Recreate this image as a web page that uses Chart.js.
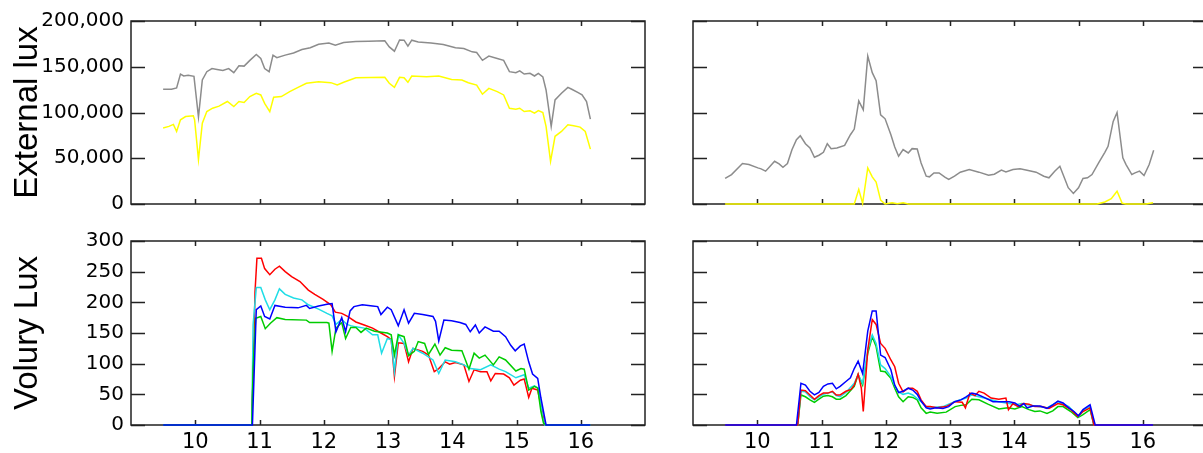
<!DOCTYPE html>
<html>
<head>
<meta charset="utf-8">
<script src="https://cdn.jsdelivr.net/npm/chart.js@4"></script>
<style>
  html, body { margin: 0; padding: 0; background: #fff; overflow: hidden; width: 1203px; height: 453px; }
  canvas { position: absolute; }
</style>
</head>
<body>
<canvas id="ext_left" width="660" height="230" style="left:0;top:0"></canvas>
<canvas id="ext_right" width="660" height="230" style="left:562px;top:0"></canvas>
<canvas id="vol_left" width="660" height="233" style="left:0;top:220px"></canvas>
<canvas id="vol_right" width="660" height="233" style="left:562px;top:220px"></canvas>
<script>
// hours of the day on the x axis
const hourTicks = [10, 11, 12, 13, 14, 15, 16]
const luxTicks = [0, 50000, 100000, 150000, 200000]
const voluryTicks = [0, 50, 100, 150, 200, 250, 300]

// external lux, left day: [hour, lux]
const extGrayLeft = [
  [9.50, 125500], [9.63, 125500], [9.71, 126800], [9.77, 142000], [9.82, 140000], [9.89, 140600],
  [9.98, 139500], [10.05, 95000], [10.11, 135500], [10.18, 144600], [10.26, 148000], [10.34, 147000],
  [10.43, 146000], [10.52, 148000], [10.60, 143500], [10.68, 151000], [10.76, 150700], [10.85, 157000],
  [10.95, 163400], [11.02, 159000], [11.08, 148000], [11.15, 144600], [11.21, 162700], [11.27, 160000],
  [11.40, 162700], [11.53, 165000], [11.66, 168800], [11.79, 170700], [11.92, 174600], [12.08, 176000],
  [12.18, 173600], [12.31, 176400], [12.50, 177500], [12.70, 178000], [12.95, 178300], [13.02, 171700],
  [13.10, 167000], [13.18, 179300], [13.25, 179000], [13.31, 172500], [13.37, 179000], [13.47, 177000],
  [13.67, 176000], [13.86, 174300], [14.05, 170700], [14.18, 170000], [14.31, 166300], [14.38, 165600],
  [14.47, 157000], [14.57, 161600], [14.70, 159000], [14.80, 157000], [14.89, 144600], [14.99, 143500],
  [15.05, 145600], [15.12, 142000], [15.21, 142800], [15.28, 139900], [15.34, 142800], [15.41, 139000],
  [15.46, 124600], [15.54, 84800], [15.60, 113800], [15.70, 121000], [15.80, 127500], [15.86, 125400],
  [15.96, 121700], [16.02, 119200], [16.09, 112000], [16.15, 92800]
]
const extYellowLeft = [
  [9.50, 83000], [9.59, 84800], [9.66, 87000], [9.71, 79300], [9.77, 92000], [9.85, 95600],
  [9.97, 96400], [9.99, 92000], [10.05, 48500], [10.11, 88400], [10.18, 101000], [10.27, 104700],
  [10.37, 107000], [10.50, 112000], [10.60, 106500], [10.68, 112000], [10.76, 111000], [10.85, 117400],
  [10.95, 121000], [11.02, 119200], [11.08, 110000], [11.16, 101000], [11.22, 116700], [11.34, 117400],
  [11.47, 122800], [11.60, 127500], [11.73, 132000], [11.92, 133700], [12.11, 132600], [12.21, 130000],
  [12.31, 133000], [12.50, 138000], [12.95, 138400], [13.02, 131900], [13.10, 127500], [13.18, 138400],
  [13.25, 138000], [13.31, 133000], [13.37, 139900], [13.60, 139000], [13.79, 139900], [13.99, 136000],
  [14.15, 135500], [14.25, 132600], [14.38, 130000], [14.47, 120000], [14.57, 126400], [14.70, 122800],
  [14.80, 119200], [14.89, 104700], [14.99, 103600], [15.05, 104700], [15.12, 101000], [15.21, 101800],
  [15.28, 99300], [15.34, 102000], [15.41, 100000], [15.46, 84800], [15.53, 46700], [15.60, 74000],
  [15.70, 79300], [15.80, 86600], [15.89, 85500], [15.99, 84000], [16.07, 79300], [16.15, 60000]
]

// external lux, right day
const extGrayRight = [
  [9.50, 27900], [9.60, 32200], [9.77, 44200], [9.87, 43100], [10.01, 39500], [10.06, 38400],
  [10.13, 35900], [10.20, 41300], [10.27, 46700], [10.34, 43800], [10.40, 40200], [10.47, 44200],
  [10.54, 59400], [10.61, 70300], [10.67, 74600], [10.75, 65900], [10.82, 61200], [10.89, 51100],
  [10.96, 53300], [11.03, 56500], [11.09, 65900], [11.15, 60500], [11.24, 61200], [11.36, 64100],
  [11.45, 75700], [11.51, 81900], [11.58, 112700], [11.65, 102900], [11.72, 161600], [11.79, 143500],
  [11.85, 134800], [11.92, 97500], [11.99, 93100], [12.08, 75700], [12.14, 62300], [12.20, 52200],
  [12.27, 59400], [12.35, 55800], [12.41, 60500], [12.49, 60100], [12.55, 44900], [12.63, 30400],
  [12.68, 29700], [12.75, 34000], [12.83, 34000], [12.92, 29300], [12.98, 26800], [13.07, 30400],
  [13.16, 34800], [13.30, 37700], [13.45, 34800], [13.60, 31500], [13.69, 32600], [13.80, 37000],
  [13.87, 35100], [13.98, 37700], [14.09, 38400], [14.20, 37000], [14.34, 34800], [14.46, 30400],
  [14.54, 28600], [14.63, 35900], [14.71, 41300], [14.76, 32200], [14.84, 17800], [14.92, 11600],
  [15.00, 17800], [15.07, 27900], [15.14, 28600], [15.21, 32200], [15.32, 45700], [15.41, 56500],
  [15.46, 63000], [15.54, 90200], [15.60, 100000], [15.69, 50400], [15.74, 43100], [15.83, 32200],
  [15.88, 34000], [15.95, 35900], [16.02, 31200], [16.10, 43100], [16.17, 58700]
]
const extYellowRight = [
  [9.50, 0], [11.51, 0], [11.58, 16000], [11.64, 700], [11.72, 39500], [11.79, 29700],
  [11.85, 24000], [11.92, 4300], [11.99, 0], [12.10, 1400], [12.18, 400], [12.27, 1400],
  [12.35, 0], [15.29, 0], [15.41, 2200], [15.51, 5800], [15.60, 14000], [15.68, 700],
  [15.74, 0], [16.05, 0], [16.16, 1400]
]

// volury lux, left day
const volRedLeft = [
  [9.50, 0], [10.87, 0], [10.88, 32], [10.90, 71], [10.93, 217], [10.96, 272], [11.03, 272],
  [11.08, 255], [11.16, 245], [11.24, 254], [11.31, 259], [11.40, 250], [11.50, 242], [11.63, 234],
  [11.76, 220], [11.86, 213], [11.99, 205], [12.11, 196], [12.18, 184], [12.28, 182], [12.37, 177],
  [12.50, 168], [12.63, 163], [12.76, 158], [12.89, 150], [12.99, 144], [13.05, 139], [13.10, 79],
  [13.16, 134], [13.25, 133], [13.32, 103], [13.39, 125], [13.54, 120], [13.63, 114], [13.72, 87],
  [13.79, 92], [13.89, 103], [13.96, 99], [14.05, 102], [14.18, 98], [14.26, 71], [14.34, 90],
  [14.44, 87], [14.54, 87], [14.60, 72], [14.67, 84], [14.80, 83], [14.89, 77], [14.96, 65],
  [15.06, 73], [15.12, 75], [15.19, 45], [15.24, 60], [15.33, 57], [15.40, 22], [15.44, 0], [16.15, 0]
]
const volCyanLeft = [
  [9.50, 0], [10.88, 0], [10.90, 163], [10.95, 224], [11.02, 224], [11.09, 204], [11.16, 188],
  [11.24, 204], [11.31, 222], [11.40, 213], [11.53, 207], [11.66, 204], [11.76, 196], [11.92, 189],
  [12.05, 182], [12.13, 178], [12.19, 164], [12.28, 172], [12.36, 164], [12.42, 162], [12.50, 160],
  [12.63, 158], [12.76, 147], [12.84, 147], [12.90, 117], [12.99, 141], [13.05, 139], [13.10, 87],
  [13.16, 147], [13.25, 133], [13.32, 114], [13.39, 125], [13.54, 117], [13.70, 106], [13.79, 84],
  [13.89, 106], [14.05, 103], [14.18, 98], [14.28, 92], [14.44, 90], [14.60, 98], [14.73, 91],
  [14.83, 87], [14.99, 77], [15.12, 82], [15.19, 60], [15.28, 64], [15.34, 60], [15.41, 11],
  [15.44, 0], [16.15, 0]
]
const volGreenLeft = [
  [9.50, 0], [10.88, 0], [10.90, 92], [10.94, 174], [11.02, 177], [11.09, 157], [11.17, 166],
  [11.27, 175], [11.40, 172], [11.73, 171], [11.78, 167], [12.05, 167], [12.08, 166], [12.13, 120],
  [12.19, 158], [12.28, 167], [12.34, 141], [12.42, 159], [12.50, 159], [12.58, 151], [12.66, 158],
  [12.79, 153], [12.99, 150], [13.05, 147], [13.10, 114], [13.16, 147], [13.25, 144], [13.32, 113],
  [13.41, 120], [13.47, 136], [13.57, 133], [13.63, 115], [13.73, 132], [13.81, 114], [13.89, 126],
  [13.99, 122], [14.15, 121], [14.26, 91], [14.34, 117], [14.42, 109], [14.51, 114], [14.64, 98],
  [14.73, 111], [14.83, 106], [14.99, 88], [15.07, 92], [15.12, 91], [15.19, 57], [15.28, 63],
  [15.33, 60], [15.38, 22], [15.42, 3], [15.46, 0], [16.15, 0]
]
const volBlueLeft = [
  [9.50, 0], [10.89, 0], [10.95, 188], [11.02, 194], [11.08, 177], [11.16, 173], [11.24, 195],
  [11.40, 192], [11.60, 191], [11.73, 195], [11.78, 190], [11.92, 194], [12.05, 197], [12.13, 198],
  [12.19, 152], [12.28, 175], [12.34, 152], [12.41, 186], [12.47, 193], [12.60, 196], [12.76, 194],
  [12.84, 193], [12.89, 180], [12.99, 192], [13.05, 188], [13.16, 162], [13.25, 188], [13.32, 166],
  [13.41, 182], [13.54, 180], [13.70, 177], [13.74, 169], [13.79, 137], [13.87, 171], [13.99, 170],
  [14.12, 167], [14.21, 164], [14.28, 152], [14.36, 163], [14.42, 150], [14.51, 160], [14.64, 153],
  [14.73, 153], [14.83, 144], [14.91, 130], [14.98, 121], [15.06, 129], [15.12, 132], [15.19, 103],
  [15.25, 83], [15.33, 76], [15.38, 44], [15.46, 0], [16.15, 0]
]

// volury lux, right day
const volRedRight = [
  [9.50, 0], [10.63, 0], [10.68, 57], [10.75, 56], [10.82, 49], [10.89, 42], [10.96, 48],
  [11.03, 52], [11.10, 52], [11.17, 55], [11.23, 49], [11.29, 49], [11.38, 55], [11.46, 58],
  [11.51, 65], [11.57, 83], [11.62, 60], [11.65, 22], [11.72, 122], [11.79, 172], [11.85, 164],
  [11.92, 133], [11.99, 125], [12.08, 106], [12.14, 95], [12.20, 68], [12.27, 54], [12.35, 60],
  [12.42, 60], [12.49, 55], [12.55, 41], [12.63, 30], [12.69, 30], [12.80, 28], [12.94, 30],
  [13.08, 38], [13.19, 37], [13.24, 28], [13.31, 52], [13.39, 48], [13.45, 55], [13.53, 52],
  [13.64, 44], [13.76, 42], [13.87, 44], [13.91, 25], [13.98, 35], [14.06, 30], [14.14, 35],
  [14.23, 34], [14.32, 30], [14.43, 30], [14.54, 27], [14.68, 35], [14.76, 33], [14.88, 25],
  [14.99, 14], [15.07, 22], [15.18, 28], [15.24, 0], [16.16, 0]
]
const volCyanRight = [
  [9.50, 0], [10.63, 0], [10.68, 55], [10.75, 54], [10.82, 46], [10.89, 41], [10.96, 46],
  [11.03, 50], [11.10, 52], [11.17, 54], [11.23, 48], [11.29, 46], [11.38, 53], [11.51, 68],
  [11.57, 82], [11.64, 68], [11.72, 122], [11.79, 147], [11.85, 133], [11.92, 98], [11.99, 92],
  [12.08, 79], [12.14, 64], [12.20, 54], [12.27, 50], [12.35, 52], [12.42, 49], [12.55, 38],
  [12.63, 30], [12.69, 28], [12.89, 30], [13.07, 38], [13.25, 44], [13.34, 49], [13.53, 44],
  [13.76, 38], [13.92, 35], [14.02, 33], [14.12, 35], [14.20, 33], [14.37, 30], [14.51, 28],
  [14.68, 38], [14.85, 30], [15.00, 14], [15.09, 25], [15.18, 30], [15.24, 0], [16.16, 0]
]
const volGreenRight = [
  [9.50, 0], [10.63, 0], [10.68, 49], [10.75, 46], [10.82, 41], [10.89, 37], [10.96, 42],
  [11.03, 47], [11.10, 48], [11.17, 46], [11.23, 42], [11.29, 42], [11.38, 48], [11.51, 63],
  [11.57, 82], [11.64, 65], [11.72, 117], [11.79, 144], [11.85, 128], [11.92, 88], [11.99, 87],
  [12.08, 76], [12.14, 60], [12.20, 46], [12.27, 38], [12.35, 46], [12.42, 45], [12.49, 41],
  [12.55, 28], [12.63, 19], [12.69, 21], [12.80, 19], [12.94, 21], [13.08, 30], [13.17, 32],
  [13.25, 33], [13.34, 42], [13.45, 41], [13.59, 34], [13.76, 26], [13.90, 28], [14.01, 26],
  [14.12, 30], [14.23, 25], [14.32, 22], [14.40, 23], [14.51, 19], [14.60, 23], [14.68, 30],
  [14.76, 30], [14.88, 22], [14.99, 12], [15.07, 17], [15.18, 25], [15.24, 0], [16.16, 0]
]
const volBlueRight = [
  [9.50, 0], [10.61, 0], [10.68, 68], [10.75, 65], [10.82, 55], [10.89, 49], [10.96, 53],
  [11.03, 63], [11.10, 67], [11.17, 68], [11.23, 59], [11.29, 63], [11.38, 71], [11.45, 77],
  [11.51, 92], [11.57, 104], [11.64, 84], [11.72, 153], [11.79, 186], [11.85, 186], [11.92, 114],
  [11.99, 110], [12.08, 90], [12.14, 65], [12.20, 53], [12.27, 55], [12.35, 60], [12.42, 57],
  [12.49, 50], [12.55, 39], [12.63, 28], [12.69, 26], [12.78, 28], [12.89, 27], [12.98, 30],
  [13.07, 38], [13.17, 41], [13.25, 46], [13.34, 52], [13.42, 50], [13.53, 45], [13.67, 38],
  [13.78, 38], [13.92, 38], [14.01, 36], [14.09, 30], [14.15, 35], [14.20, 28], [14.29, 31],
  [14.40, 31], [14.51, 27], [14.60, 33], [14.68, 39], [14.76, 36], [14.85, 28], [14.93, 22],
  [15.00, 15], [15.07, 25], [15.18, 33], [15.26, 0], [16.16, 0]
]

const TICK_FONT = 'DejaVu Sans, Verdana, sans-serif'
const TITLE_FONT = 'Liberation Sans, Arial, Helvetica, sans-serif'

// frame with inward tick marks, drawn under the lines like the original figure
const inwardTicks = {
  id: 'inwardTicks',
  beforeDatasetsDraw(chart) {
    const { ctx, chartArea: a, scales: { x, y } } = chart
    ctx.save()
    ctx.strokeStyle = '#222'
    ctx.lineWidth = 1.5
    ctx.beginPath()
    x.ticks.forEach(t => {
      const px = Math.round(x.getPixelForValue(t.value)) + 0.5
      ctx.moveTo(px, a.bottom); ctx.lineTo(px, a.bottom - 5)
      ctx.moveTo(px, a.top); ctx.lineTo(px, a.top + 5)
    })
    y.ticks.forEach(t => {
      const py = Math.round(y.getPixelForValue(t.value)) + 0.5
      ctx.moveTo(a.left, py); ctx.lineTo(a.left + 14, py)
      ctx.moveTo(a.right, py); ctx.lineTo(a.right - 14, py)
    })
    ctx.stroke()
    ctx.strokeRect(a.left, a.top, a.right - a.left, a.bottom - a.top)
    ctx.restore()
  },
}

function line(data, color) {
  return {
    data: data.map(p => ({ x: p[0], y: p[1] })),
    borderColor: color,
    borderWidth: 1.5,
    pointRadius: 0,
    tension: 0,
    clip: 4,
  }
}

function makeChart(id, datasets, opts) {
  new Chart(document.getElementById(id), {
    type: 'line',
    data: { datasets: datasets },
    options: {
      responsive: false,
      animation: false,
      devicePixelRatio: 1,
      layout: { padding: { top: 21, right: 15, left: 0, bottom: 0 } },
      plugins: { legend: { display: false }, tooltip: { enabled: false } },
      scales: {
        x: {
          type: 'linear',
          min: 9,
          max: 17,
          afterBuildTicks: s => { s.ticks = hourTicks.map(v => ({ value: v })) },
          afterFit: s => { s.height = opts.xHeight },
          grid: { display: false, drawTicks: false },
          border: { display: false },
          ticks: {
            display: opts.xLabels,
            color: '#000',
            padding: 5,
            maxRotation: 0,
            font: { family: TICK_FONT, size: 21 },
          },
        },
        y: {
          min: 0,
          max: opts.yMax,
          afterBuildTicks: s => { s.ticks = opts.yTicks.map(v => ({ value: v })) },
          afterFit: s => { s.width = 131 },
          grid: { display: false, drawTicks: false },
          border: { display: false },
          ticks: {
            display: opts.yLabels,
            color: '#000',
            padding: 7,
            font: { family: TICK_FONT, size: 20 },
          },
          title: {
            display: !!opts.title,
            text: opts.title,
            color: '#000',
            padding: { top: 8, bottom: 0 },
            font: { family: TITLE_FONT, size: 33 },
          },
        },
      },
    },
    plugins: [inwardTicks],
  })
}

const GRAY = '#8c8c8c'
const YELLOW = '#ffff00'
const RED = '#ff0000'
const CYAN = '#1fdde6'
const GREEN = '#00cc00'
const BLUE = '#0000ff'

// Chart.js paints dataset 0 last, so the first entry ends up on top
makeChart('ext_left', [line(extGrayLeft, GRAY), line(extYellowLeft, YELLOW)],
  { xHeight: 26, xLabels: false, yLabels: true, yMax: 200000, yTicks: luxTicks, title: 'External lux' })
makeChart('ext_right', [line(extYellowRight, YELLOW), line(extGrayRight, GRAY)],
  { xHeight: 26, xLabels: false, yLabels: false, yMax: 200000, yTicks: luxTicks, title: '' })
makeChart('vol_left', [line(volBlueLeft, BLUE), line(volGreenLeft, GREEN), line(volCyanLeft, CYAN), line(volRedLeft, RED)],
  { xHeight: 28, xLabels: true, yLabels: true, yMax: 300, yTicks: voluryTicks, title: 'Volury Lux' })
makeChart('vol_right', [line(volBlueRight, BLUE), line(volRedRight, RED), line(volCyanRight, CYAN), line(volGreenRight, GREEN)],
  { xHeight: 28, xLabels: true, yLabels: false, yMax: 300, yTicks: voluryTicks, title: '' })
</script>
</body>
</html>
